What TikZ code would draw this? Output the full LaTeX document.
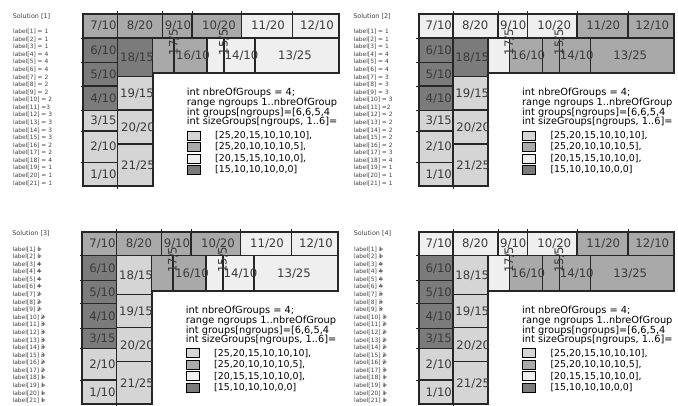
\documentclass[tikz,border=0pt]{standalone}
\usepackage{fontspec}
\setmainfont{DejaVu Sans}
\definecolor{g1}{HTML}{D5D5D5}
\definecolor{g2}{HTML}{A9A9A9}
\definecolor{g3}{HTML}{EFEFEF}
\definecolor{g4}{HTML}{7B7B7B}
\definecolor{ink}{HTML}{262626}
\definecolor{txt}{HTML}{3A3A3A}

\newcommand\setgroups[1]{\foreach \g [count=\k] in {#1}{\expandafter\xdef\csname grp\k\endcsname{g\g}}}
\newcommand\gcol[1]{\csname grp#1\endcsname}

\tikzset{
 cell/.style={draw=ink, line width=1.1pt},
 frameline/.style={draw=ink, line width=1.8pt},
 tickline/.style={draw=ink, line width=0.9pt},
 boxlabel/.style={font=\fontsize{11.7}{12}\selectfont, text=txt, inner sep=0pt},
 codeline/.style={font=\fontsize{9.8}{10}\selectfont, text=black, anchor=west, inner sep=0pt},
 legline/.style={font=\fontsize{9.4}{10}\selectfont, text=black, anchor=west, inner sep=0pt},
 swatch/.style={draw=black, line width=0.7pt},
 soltext/.style={font=\fontsize{5.9}{6}\selectfont, text=black!75, anchor=west, inner sep=0pt},
}

\newcommand\drawframe[3]{%
\begin{scope}[shift={(#2,#3)}]
 \foreach \n/\xa/\ya/\xb/\yb/\tx/\ty/\s/\r in {
 7/83.3/14/117.7/38/103.5/26/10/0,
 8/117.7/14/162.7/38/140/26/20/0,
 9/162.7/14/192/38/178/26/10/0,
 10/192/14/241.7/38/219/26/20/0,
 11/241.7/14/292.7/38/268/26/20/0,
 12/292.7/14/338.7/38/317/26/10/0,
 6/83.3/38/117.7/62.7/103.5/50.5/10/0,
 5/83.3/62.7/117.7/86/103.5/74.5/10/0,
 4/83.3/86/117.7/110.7/103.5/98.5/10/0,
 3/83.3/110.7/117.7/131/103.5/121/15/0,
 2/83.3/131/117.7/162.3/103.5/147/10/0,
 1/83.3/162.3/117.7/186/103.5/174.5/10/0,
 18/117.7/38/152.7/76.7/137/58/15/0,
 19/117.7/76.7/152.7/110/137/93.5/15/0,
 20/117.7/110/152.7/144/138/128/20/0,
 21/117.7/144/152.7/186/138/166/25/0,
 17/152.7/38/174/73/174/42/5/90,
 16/174/38/207/73/193/56/10/0,
 15/207/38/224/73/224/42/5/90,
 14/224/38/255/73/241.5/56/10/0,
 13/255/38/338.7/73/295/56/25/0}
 {\edef\cc{\gcol{\n}}\path[cell, fill=\cc] (\xa,\ya) rectangle (\xb,\yb);}
 \draw[frameline] (83.3,14) -- (338.7,14) -- (338.7,73) -- (152.7,73) -- (152.7,186) -- (83.3,186) -- cycle;
 \foreach \x in {117.7,162.7,192,241.7,292.7} \draw[tickline] (\x,11) -- (\x,14);
 \foreach \y in {38,62.7,86,110.7,131,162.3} \draw[tickline] (80.5,\y) -- (83.3,\y);
 \foreach \x in {117.7} \draw[tickline] (\x,186) -- (\x,189);
 \foreach \n/\xa/\ya/\xb/\yb/\tx/\ty/\s/\r in {
 7/83.3/14/117.7/38/103.5/26/10/0,
 8/117.7/14/162.7/38/140/26/20/0,
 9/162.7/14/192/38/178/26/10/0,
 10/192/14/241.7/38/219/26/20/0,
 11/241.7/14/292.7/38/268/26/20/0,
 12/292.7/14/338.7/38/317/26/10/0,
 6/83.3/38/117.7/62.7/103.5/50.5/10/0,
 5/83.3/62.7/117.7/86/103.5/74.5/10/0,
 4/83.3/86/117.7/110.7/103.5/98.5/10/0,
 3/83.3/110.7/117.7/131/103.5/121/15/0,
 2/83.3/131/117.7/162.3/103.5/147/10/0,
 1/83.3/162.3/117.7/186/103.5/174.5/10/0,
 18/117.7/38/152.7/76.7/137/58/15/0,
 19/117.7/76.7/152.7/110/137/93.5/15/0,
 20/117.7/110/152.7/144/138/128/20/0,
 21/117.7/144/152.7/186/138/166/25/0,
 17/152.7/38/174/73/174/42/5/90,
 16/174/38/207/73/193/56/10/0,
 15/207/38/224/73/224/42/5/90,
 14/224/38/255/73/241.5/56/10/0,
 13/255/38/338.7/73/295/56/25/0}
 {\node[boxlabel, rotate=\r] (#1b\n) at (\tx,\ty) {\n/\s};}
 \node[codeline] (#1c1) at (186.7,93) {int nbreOfGroups = 4;};
 \node[codeline] (#1c2) at (186.7,103) {range ngroups 1..nbreOfGroup};
 \node[codeline] (#1c3) at (186.7,112.7) {int groups[ngroups]=[6,6,5,4};
 \node[codeline] (#1c4) at (186.7,121.7) {int sizeGroups[ngroups, 1..6]=};
 \foreach \k/\yy/\t in {1/135.5/{[25,20,15,10,10,10],}, 2/147/{[25,20,10,10,10,5],}, 3/158.5/{[20,15,15,10,10,0],}, 4/170/{[15,10,10,10,0,0]}}
 {\path[swatch, fill=g\k] (187,{\yy-4.5}) rectangle (200,{\yy+4.5});
  \node[legline] (#1s\k) at (215,\yy) {\t};}
\end{scope}}

\newcommand\drawlabels[6]{%
\begin{scope}[shift={(#2,#3)}]
 \node[soltext, font=\fontsize{6.4}{7}\selectfont] (#1title) at (12.7,16) {#4};
 \foreach \v [count=\i] in {#5} {
  \node[soltext] (#1lab\i) at (13,{31.7+7.58*(\i-1)}) {\ifnum#6=1 label[\i]~\rlap{=}\v\else\ifnum\i=11 label[\i] =\v\else label[\i] = \v\fi\fi};
 }
\end{scope}}

\begin{document}
\begin{tikzpicture}[x=1pt,y=-1pt]
\useasboundingbox (0,0) rectangle (678,405);
\fill[white] (0,0) rectangle (678,405);
\setgroups{1,1,1,4,4,4,2,2,2,2,3,3,3,3,3,2,2,4,1,1,1}
\drawframe{A}{0}{0}
\drawlabels{A}{0}{0}{Solution [1]}{1,1,1,4,4,4,2,2,2,2,3,3,3,3,3,2,2,4,1,1,1}{0}
\setgroups{1,1,1,4,4,4,3,3,3,3,2,2,2,2,2,2,3,4,1,1,1}
\drawframe{B}{335.3}{0}
\drawlabels{B}{340.5}{0}{Solution [2]}{1,1,1,4,4,4,3,3,3,3,2,2,2,2,2,2,3,4,1,1,1}{0}
\setgroups{1,1,4,4,4,4,2,2,2,2,3,3,3,3,3,2,2,1,1,1,1}
\drawframe{C}{-1}{217.7}
\drawlabels{C}{-0.5}{217.5}{Solution [3]}{1,1,4,4,4,4,2,2,2,2,3,3,3,3,3,2,2,1,1,1,1}{1}
\setgroups{1,1,4,4,4,4,3,3,3,3,2,2,2,2,2,2,3,1,1,1,1}
\drawframe{D}{335.3}{217.7}
\drawlabels{D}{341}{217.5}{Solution [4]}{1,1,4,4,4,4,3,3,3,3,2,2,2,2,2,2,3,1,1,1,1}{1}
\end{tikzpicture}
\end{document}
